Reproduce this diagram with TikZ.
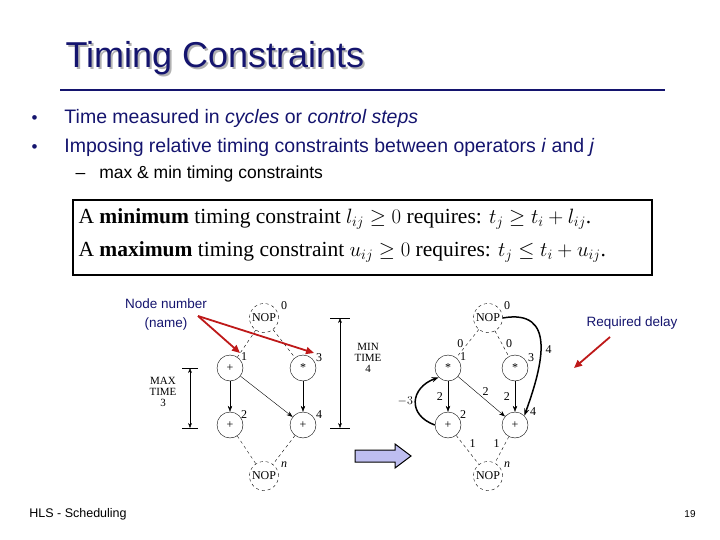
\documentclass[tikz,border=0pt]{standalone}
\usepackage{fontspec}
\setmainfont{Liberation Sans}
\newfontfamily\serif{Liberation Serif}
\usepackage{amsmath}
\usetikzlibrary{arrows.meta}
\definecolor{navy}{RGB}{20,20,110}
\definecolor{darkred}{RGB}{190,25,25}
\definecolor{lav}{RGB}{190,190,240}
\tikzset{
 op/.style={circle,draw,minimum size=26pt,inner sep=0pt,font=\serif\fontsize{12}{12}\selectfont},
 nop/.style={op,dashed,minimum size=29pt,font=\serif\fontsize{12}{12}\selectfont},
 dline/.style={dashed,thin},
 arr/.style={-{Stealth[length=6pt]},thin},
 redarr/.style={-{Triangle[length=8pt,width=7pt]},darkred,line width=1.8pt},
 lbl/.style={font=\serif\fontsize{12}{12}\selectfont,inner sep=1pt},
 sm/.style={font=\serif\fontsize{11}{11}\selectfont,align=center,inner sep=0pt}
}
\begin{document}
\begin{tikzpicture}[x=1pt,y=-1pt]
\useasboundingbox (0,0) rectangle (720,540);
% title
\node[gray!60,anchor=west,font=\fontsize{36}{36}\selectfont] at (64,60) {Timing Constraints};
\node[navy,anchor=west,font=\fontsize{36}{36}\selectfont] (title) at (62,58) {Timing Constraints};
\draw[navy,line width=2.2pt] (60,90) -- (665,90);
% bullets
\node[anchor=west,navy,font=\fontsize{19.5}{20}\selectfont] (b1) at (28,118) {{\fontsize{17}{17}\selectfont•}\hspace{27pt}Time measured in \textit{cycles} or \textit{control steps}};
\node[anchor=west,navy,font=\fontsize{19.5}{20}\selectfont] (b2) at (28,147) {{\fontsize{17}{17}\selectfont•}\hspace{27pt}Imposing relative timing constraints between operators \textit{i} and \textit{j}};
\node[anchor=west,font=\fontsize{17.5}{18}\selectfont] (b3) at (72,174) {–\hspace{14pt}max \& min timing constraints};
% box
\draw[line width=1.4pt] (73,200) rectangle (652,275);
\node[anchor=west,font=\serif\fontsize{21.5}{22}\selectfont] (l1) at (75,219) {A \textbf{minimum} timing constraint $l_{ij}\geq 0$ requires: $t_j\geq t_i+l_{ij}$.};
\node[anchor=west,font=\serif\fontsize{21.5}{22}\selectfont] (l2) at (75,252) {A \textbf{maximum} timing constraint $u_{ij}\geq 0$ requires: $t_j\leq t_i+u_{ij}$.};
% left graph
\node[nop] (a0) at (264,318) {NOP};
\node[op] (a1) at (230,368) {+};
\node[op] (a3) at (303,368) {*};
\node[op] (a2) at (230,425) {+};
\node[op] (a4) at (303,425) {+};
\node[nop] (an) at (264,476) {NOP};
\node[lbl] at (284,306) {0};
\node[lbl] at (244,357) {1};
\node[lbl] at (319,358) {3};
\node[lbl] at (244,415) {2};
\node[lbl] at (319,415) {4};
\node[lbl] at (284,465) {\textit{n}};
\draw[dline] (a0) -- (a1); \draw[dline] (a0) -- (a3);
\draw[dline] (a2) -- (an); \draw[dline] (a4) -- (an);
\draw[arr] (a1) -- (a2); \draw[arr] (a3) -- (a4); \draw[arr] (a1) -- (a4);
\coordinate (mx1) at (190,368); \coordinate (mx2) at (190,428);
\draw[{Stealth[length=5pt]}-{Stealth[length=5pt]},thin] (mx1) -- (mx2);
\draw (182,368) -- (198,368); \draw (182,428) -- (198,428);
\node[sm] at (163,392) {MAX\\TIME\\3};
\coordinate (mn1) at (340,318); \coordinate (mn2) at (340,428);
\draw[{Stealth[length=5pt]}-{Stealth[length=5pt]},thin] (mn1) -- (mn2);
\draw (330,318) -- (350,318); \draw (330,428) -- (350,428);
\node[sm] at (368,358) {MIN\\TIME\\4};
% labels
\node[navy,font=\fontsize{13.5}{14}\selectfont] (nn) at (166,304) {Node number};
\node[navy,font=\fontsize{13.5}{14}\selectfont] (nm) at (166,324) {(name)};
\coordinate (rs) at (198,316);
\draw[redarr] (rs) -- (240,353);
\draw[redarr] (rs) -- (314,353);
% fat arrow
\draw[fill=lav,line width=1pt] (355,450) -- (395,450) -- (395,444) -- (411,456) -- (395,468) -- (395,462) -- (355,462) -- cycle;
% right graph
\node[nop] (b0) at (488,318) {NOP};
\node[op] (c1) at (448,368) {*};
\node[op] (c3) at (515,368) {*};
\node[op] (c2) at (448,425) {+};
\node[op] (c4) at (515,425) {+};
\node[nop] (bn) at (488,476) {NOP};
\node[lbl] at (507,306) {0};
\node[lbl] at (463,357) {1};
\node[lbl] at (531,358) {3};
\node[lbl] at (463,415) {2};
\node[lbl] at (533,412) {4};
\node[lbl] at (507,465) {\textit{n}};
\draw[dline] (b0) -- node[lbl,left=3pt] {0} (c1);
\draw[dline] (b0) -- node[lbl,right=3pt] {0} (c3);
\draw[dline] (c2) -- node[lbl,above right=1pt] {1} (bn);
\draw[dline] (c4) -- node[lbl,above left=1pt] {1} (bn);
\draw[arr] (c1) -- node[lbl,left=4pt] {2} (c2);
\draw[arr] (c3) -- node[lbl,left=4pt] {2} (c4);
\draw[arr] (c1) -- node[lbl,above right=0pt,pos=0.5] {2} (c4);
\draw[-{Stealth[length=7pt]},line width=1.5pt] (c2.west) to[out=160,in=200,looseness=1.6] node[lbl,left=1pt] {$-3$} (c1.south west);
\draw[-{Stealth[length=7pt]},line width=1.5pt] (b0.east) to[out=10,in=70,looseness=1.4] node[lbl,right=3pt,pos=0.55] {4} (c4.north east);
\node[navy,font=\fontsize{13.5}{14}\selectfont] (rd) at (632,323) {Required delay};
\draw[redarr] (610,337) -- (574,368);
% footer
\node[font=\fontsize{12.5}{13}\selectfont] (ft) at (78,514) {HLS - Scheduling};
\node[font=\fontsize{10}{10}\selectfont] (pg) at (690,514) {19};
\end{tikzpicture}
\end{document}
